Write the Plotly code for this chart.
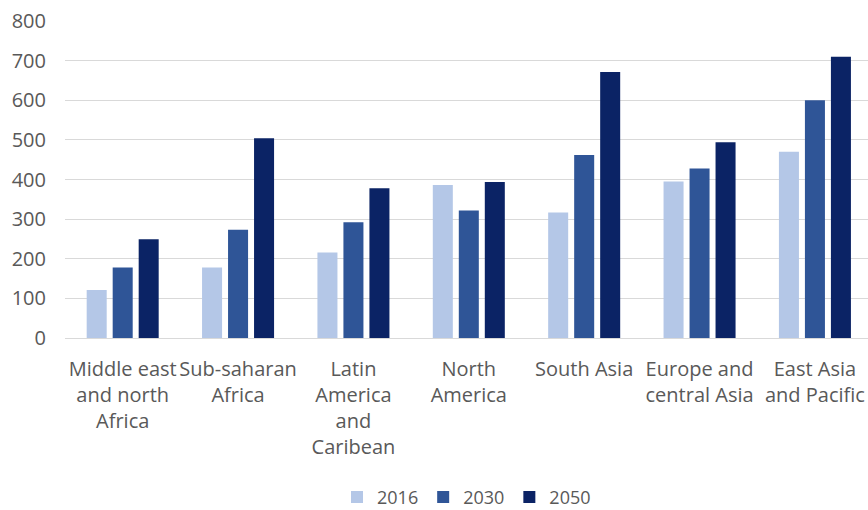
import plotly.graph_objects as go

categories = ["Middle east<br>and north<br>Africa", "Sub-saharan<br>Africa",
              "Latin<br>America<br>and<br>Caribean", "North<br>America", "South Asia",
              "Europe and<br>central Asia", "East Asia<br>and Pacific"]
years = ["2016", "2030", "2050"]
v2016 = [121, 178, 216, 386, 317, 395, 470]
v2030 = [178, 273, 292, 322, 462, 428, 600]
v2050 = [249, 504, 378, 394, 671, 494, 710]
colors = ["#b4c7e7", "#2f5597", "#0b2365"]
ticks = [0, 100, 200, 300, 400, 500, 600, 700, 800]

FONT = "Open Sans, sans-serif"
fig = go.Figure()
for name, vals, col in zip(years, [v2016, v2030, v2050], colors):
    fig.add_trace(go.Bar(x=list(range(len(categories))), y=vals, name=name,
                         marker=dict(color=col, line=dict(width=0))))

fig.update_layout(
    width=868, height=510,
    margin=dict(l=65, r=0, t=21, b=172),
    paper_bgcolor="white", plot_bgcolor="white",
    barmode="group", bargap=0.324, bargroupgap=0.23,
    font=dict(family=FONT, size=20, color="#595959"),
    showlegend=True,
    legend=dict(orientation="h", x=0.5, xanchor="center", xref="paper",
                y=0.025, yanchor="middle", yref="container",
                font=dict(size=18, color="#595959"), traceorder="normal",
                itemwidth=30),
    xaxis=dict(tickmode="array", tickvals=list(range(len(categories))), ticktext=categories,
               range=[-0.5, 6.46], tickangle=0, showgrid=False, zeroline=False,
               showline=False, ticks="", ticklabelstandoff=17, automargin=False,
               tickfont=dict(size=20, color="#595959")),
    yaxis=dict(range=[0, 800], tickvals=ticks, showgrid=True, gridcolor="#d9d9d9",
               gridwidth=1, zeroline=True, zerolinecolor="#d9d9d9", zerolinewidth=1,
               ticks="", ticklabelstandoff=18, automargin=False,
               tickfont=dict(size=20, color="#595959")),
)
fig.write_html("out.html")
